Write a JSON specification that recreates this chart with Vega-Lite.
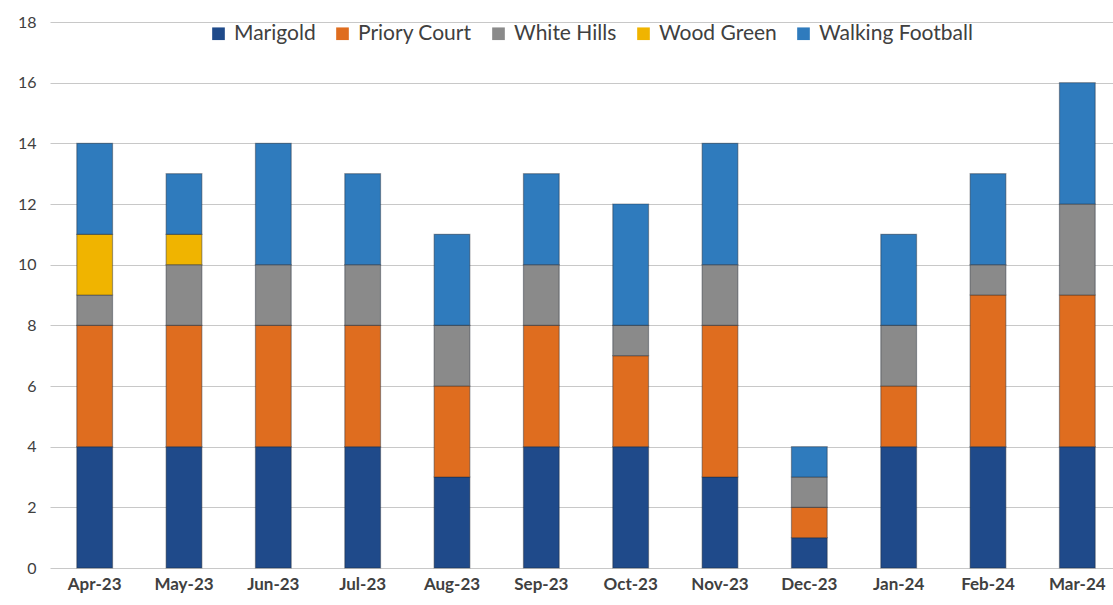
{
  "$schema": "https://vega.github.io/schema/vega-lite/v6.json",
  "autosize": {"type": "none"},
  "width": 1072,
  "height": 546,
  "padding": {"left": 50, "top": 22, "right": 0, "bottom": 37},
  "background": "white",
  "config": {
    "font": "Lato",
    "view": {"stroke": null}
  },
  "data": {
    "values": [
      {"month": "Apr-23", "series": "Marigold", "count": 4},
      {"month": "Apr-23", "series": "Priory Court", "count": 4},
      {"month": "Apr-23", "series": "White Hills", "count": 1},
      {"month": "Apr-23", "series": "Wood Green", "count": 2},
      {"month": "Apr-23", "series": "Walking Football", "count": 3},
      {"month": "May-23", "series": "Marigold", "count": 4},
      {"month": "May-23", "series": "Priory Court", "count": 4},
      {"month": "May-23", "series": "White Hills", "count": 2},
      {"month": "May-23", "series": "Wood Green", "count": 1},
      {"month": "May-23", "series": "Walking Football", "count": 2},
      {"month": "Jun-23", "series": "Marigold", "count": 4},
      {"month": "Jun-23", "series": "Priory Court", "count": 4},
      {"month": "Jun-23", "series": "White Hills", "count": 2},
      {"month": "Jun-23", "series": "Walking Football", "count": 4},
      {"month": "Jul-23", "series": "Marigold", "count": 4},
      {"month": "Jul-23", "series": "Priory Court", "count": 4},
      {"month": "Jul-23", "series": "White Hills", "count": 2},
      {"month": "Jul-23", "series": "Walking Football", "count": 3},
      {"month": "Aug-23", "series": "Marigold", "count": 3},
      {"month": "Aug-23", "series": "Priory Court", "count": 3},
      {"month": "Aug-23", "series": "White Hills", "count": 2},
      {"month": "Aug-23", "series": "Walking Football", "count": 3},
      {"month": "Sep-23", "series": "Marigold", "count": 4},
      {"month": "Sep-23", "series": "Priory Court", "count": 4},
      {"month": "Sep-23", "series": "White Hills", "count": 2},
      {"month": "Sep-23", "series": "Walking Football", "count": 3},
      {"month": "Oct-23", "series": "Marigold", "count": 4},
      {"month": "Oct-23", "series": "Priory Court", "count": 3},
      {"month": "Oct-23", "series": "White Hills", "count": 1},
      {"month": "Oct-23", "series": "Walking Football", "count": 4},
      {"month": "Nov-23", "series": "Marigold", "count": 3},
      {"month": "Nov-23", "series": "Priory Court", "count": 5},
      {"month": "Nov-23", "series": "White Hills", "count": 2},
      {"month": "Nov-23", "series": "Walking Football", "count": 4},
      {"month": "Dec-23", "series": "Marigold", "count": 1},
      {"month": "Dec-23", "series": "Priory Court", "count": 1},
      {"month": "Dec-23", "series": "White Hills", "count": 1},
      {"month": "Dec-23", "series": "Walking Football", "count": 1},
      {"month": "Jan-24", "series": "Marigold", "count": 4},
      {"month": "Jan-24", "series": "Priory Court", "count": 2},
      {"month": "Jan-24", "series": "White Hills", "count": 2},
      {"month": "Jan-24", "series": "Walking Football", "count": 3},
      {"month": "Feb-24", "series": "Marigold", "count": 4},
      {"month": "Feb-24", "series": "Priory Court", "count": 5},
      {"month": "Feb-24", "series": "White Hills", "count": 1},
      {"month": "Feb-24", "series": "Walking Football", "count": 3},
      {"month": "Mar-24", "series": "Marigold", "count": 4},
      {"month": "Mar-24", "series": "Priory Court", "count": 5},
      {"month": "Mar-24", "series": "White Hills", "count": 3},
      {"month": "Mar-24", "series": "Walking Football", "count": 4}
    ]
  },
  "transform": [
    {"calculate": "indexof(['Marigold','Priory Court','White Hills','Wood Green','Walking Football'], datum.series)", "as": "stackOrder"}
  ],
  "mark": {"type": "bar", "stroke": "#1b2430", "strokeOpacity": 0.4, "strokeWidth": 1.2},
  "encoding": {
    "x": {
      "field": "month",
      "type": "nominal",
      "sort": null,
      "scale": {"paddingInner": 0.6, "paddingOuter": 0.3},
      "axis": {
        "title": null,
        "labelAngle": 0,
        "labelFontSize": 17,
        "labelFontWeight": "bold",
        "labelColor": "#404040",
        "labelPadding": 8,
        "ticks": false,
        "domain": false
      }
    },
    "y": {
      "field": "count",
      "type": "quantitative",
      "aggregate": "sum",
      "stack": "zero",
      "scale": {"domain": [0, 18]},
      "axis": {
        "title": null,
        "values": [0, 2, 4, 6, 8, 10, 12, 14, 16, 18],
        "labelFontSize": 16,
        "labelColor": "#404040",
        "labelPadding": 14,
        "ticks": false,
        "domain": false,
        "gridColor": "#c8c8c8",
        "gridWidth": 1
      }
    },
    "color": {
      "field": "series",
      "type": "nominal",
      "scale": {
        "domain": ["Marigold", "Priory Court", "White Hills", "Wood Green", "Walking Football"],
        "range": ["#1f4a8a", "#df6d1f", "#8a8a8a", "#f0b400", "#2f7bbd"]
      },
      "legend": {
        "title": null,
        "orient": "none",
        "legendX": 158,
        "legendY": 1,
        "direction": "horizontal",
        "symbolType": "square",
        "symbolSize": 160,
        "symbolStrokeWidth": 0,
        "labelFontSize": 21,
        "labelColor": "#404040",
        "columnPadding": 16,
        "labelOffset": 5
      }
    },
    "order": {"field": "stackOrder", "type": "quantitative"}
  }
}
